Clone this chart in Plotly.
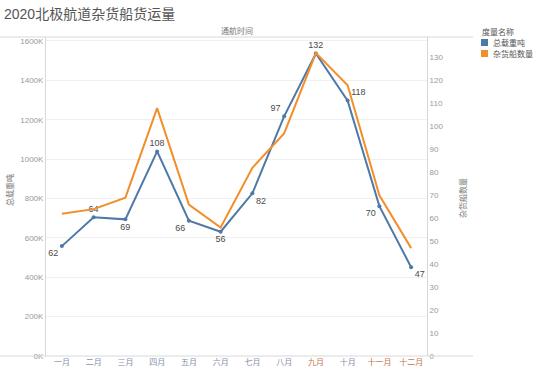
import plotly.graph_objects as go

months = ["一月", "二月", "三月", "四月", "五月", "六月", "七月", "八月", "九月", "十月", "十一月", "十二月"]
tonnage = [558000, 704000, 694000, 1039000, 687000, 631000, 826000, 1217000, 1536000, 1297000, 761000, 451000]
ships = [62, 64, 69, 108, 66, 56, 82, 97, 132, 118, 70, 47]
label_pos = ["bottom left", "top center", "bottom center", "top center", "bottom left", "bottom center",
             "bottom right", "top left", "top center", "top right", "bottom left", "bottom right"]
left_ticks = [0, 200000, 400000, 600000, 800000, 1000000, 1200000, 1400000, 1600000]
left_ticktext = ["0K", "200K", "400K", "600K", "800K", "1000K", "1200K", "1400K", "1600K"]
right_ticks = list(range(0, 140, 10))
highlight_months = {"九月", "十一月", "十二月"}

BLUE = "#4e79a7"
ORANGE = "#f28e2b"
FONT = "Liberation Sans, Noto Sans CJK SC, sans-serif"

x_idx = list(range(len(months)))
ticktext = [
    f'<span style="color:{"#c4764f" if m in highlight_months else "#8390aa"}">{m}</span>'
    for m in months
]

fig = go.Figure()
fig.add_trace(go.Scatter(
    x=x_idx, y=ships, yaxis="y2", mode="lines",
    line=dict(color=ORANGE, width=2), name="杂货船数量", hoverinfo="skip",
))
fig.add_trace(go.Scatter(
    x=x_idx, y=tonnage, mode="lines+markers+text",
    line=dict(color=BLUE, width=2), marker=dict(size=4, color=BLUE),
    text=[str(s) for s in ships], textposition=label_pos,
    textfont=dict(size=9, color="#4a4a4a", family=FONT),
    name="总载重吨",
))

W, H = 554, 374
L, R, T, B = 46, 127, 37, 18

fig.update_layout(
    width=W, height=H,
    margin=dict(l=L, r=R, t=T, b=B, autoexpand=False),
    plot_bgcolor="white", paper_bgcolor="white",
    showlegend=False,
    font=dict(family=FONT, size=8, color="#888888"),
    xaxis=dict(
        tickmode="array", tickvals=x_idx, ticktext=ticktext,
        range=[-0.5, 11.5], showgrid=False, zeroline=False, automargin=False,
        ticks="", tickfont=dict(size=8), showline=False,
    ),
    yaxis=dict(
        range=[0, 1620000], tickmode="array", tickvals=left_ticks, ticktext=left_ticktext,
        showgrid=True, gridcolor="#f0f0f0", gridwidth=1, zeroline=False, automargin=False,
        showline=True, linecolor="#d8d8d8", linewidth=1,
        ticks="", tickfont=dict(size=8, color="#999999"),
    ),
    yaxis2=dict(
        range=[0, 139], overlaying="y", side="right", tickmode="array", tickvals=right_ticks,
        showgrid=False, zeroline=False, automargin=False,
        showline=True, linecolor="#d8d8d8", linewidth=1,
        ticks="", tickfont=dict(size=8, color="#999999"),
    ),
)

def px(xp):
    return (xp - L) / (W - L - R)

def py(yp):
    return (H - B - yp) / (H - T - B)

shapes = [
    dict(type="line", xref="paper", yref="paper", x0=px(0), x1=px(473), y0=py(37), y1=py(37),
         line=dict(color="#d8d8d8", width=1)),
    dict(type="line", xref="paper", yref="paper", x0=px(0), x1=px(473), y0=py(356), y1=py(356),
         line=dict(color="#d8d8d8", width=1)),
    dict(type="rect", xref="paper", yref="paper", x0=px(481), x1=px(488), y0=py(46), y1=py(39),
         fillcolor=BLUE, line=dict(width=0)),
    dict(type="rect", xref="paper", yref="paper", x0=px(481), x1=px(488), y0=py(57), y1=py(50),
         fillcolor=ORANGE, line=dict(width=0)),
]
fig.update_layout(shapes=shapes)

annotations = [
    dict(text="2020北极航道杂货船货运量", xref="paper", yref="paper", x=px(2), y=py(14),
         xanchor="left", yanchor="middle", showarrow=False,
         font=dict(size=14, color="#555555", family=FONT)),
    dict(text="通航时间", xref="paper", yref="paper", x=px(237), y=py(31),
         xanchor="center", yanchor="middle", showarrow=False,
         font=dict(size=8, color="#777777", family=FONT)),
    dict(text="总载重吨", xref="paper", yref="paper", x=px(10), y=py(190),
         xanchor="center", yanchor="middle", showarrow=False, textangle=-90,
         font=dict(size=8, color="#777777", family=FONT)),
    dict(text="杂货船数量", xref="paper", yref="paper", x=px(463), y=py(198),
         xanchor="center", yanchor="middle", showarrow=False, textangle=-90,
         font=dict(size=8, color="#777777", family=FONT)),
    dict(text="度量名称", xref="paper", yref="paper", x=px(480), y=py(32),
         xanchor="left", yanchor="middle", showarrow=False,
         font=dict(size=8, color="#555555", family=FONT)),
    dict(text="总载重吨", xref="paper", yref="paper", x=px(491), y=py(43),
         xanchor="left", yanchor="middle", showarrow=False,
         font=dict(size=8, color="#555555", family=FONT)),
    dict(text="杂货船数量", xref="paper", yref="paper", x=px(491), y=py(54),
         xanchor="left", yanchor="middle", showarrow=False,
         font=dict(size=8, color="#555555", family=FONT)),
]
fig.update_layout(annotations=annotations)

fig.write_html("out.html", config={"displayModeBar": False},
               post_script="document.body.style.margin='0';document.body.style.overflow='hidden';")
